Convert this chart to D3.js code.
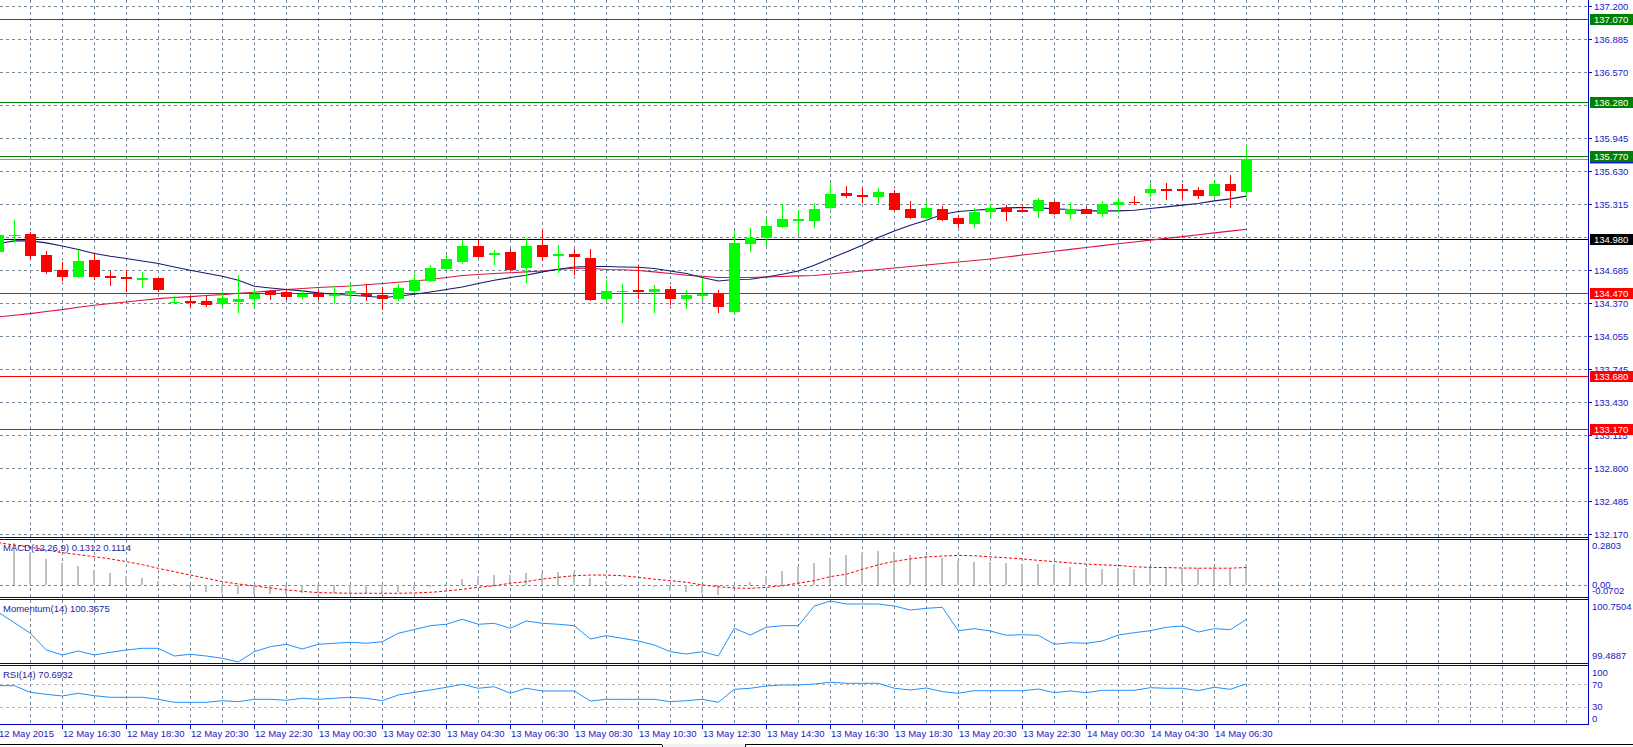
<!DOCTYPE html>
<html><head><meta charset="utf-8">
<script src="https://cdn.jsdelivr.net/npm/d3@7"></script>
<style>
html,body{margin:0;padding:0;background:#fff;overflow:hidden}
svg{display:block}
text{font-family:"Liberation Sans",Arial,sans-serif;font-size:9.5px}
</style>
</head><body>
<svg id="c" width="1633" height="747"></svg>
<script>
// ---------- DATA (USDJPY-like M30, 79 bars) ----------
const open=[134.857,135.015,135.026,134.826,134.683,134.619,134.778,134.625,134.615,134.600,
134.607,134.378,134.390,134.388,134.366,134.381,134.410,134.486,134.473,134.429,
134.461,134.445,134.461,134.461,134.445,134.410,134.486,134.581,134.692,134.762,
134.912,134.823,134.854,134.705,134.921,134.826,134.835,134.797,134.410,134.480,
134.490,134.476,134.502,134.410,134.435,134.461,134.286,134.937,134.990,135.095,
135.160,135.152,135.273,135.416,135.397,135.381,135.416,135.264,135.181,135.270,
135.178,135.124,135.238,135.273,135.257,135.248,135.334,135.219,135.270,135.219,
135.305,135.334,135.419,135.454,135.454,135.445,135.388,135.502,135.426];
const high=[135.050,135.159,135.048,134.864,134.762,134.880,134.842,134.673,134.683,134.667,
134.613,134.442,134.435,134.435,134.476,134.635,134.492,134.499,134.502,134.492,
134.492,134.537,134.550,134.556,134.524,134.556,134.651,134.730,134.832,134.969,
134.969,134.873,134.889,134.994,135.070,134.921,134.889,134.889,134.594,134.556,
134.721,134.540,134.533,134.492,134.613,134.492,135.054,135.086,135.178,135.311,
135.254,135.318,135.509,135.483,135.461,135.461,135.451,135.340,135.337,135.292,
135.207,135.273,135.311,135.305,135.295,135.366,135.340,135.330,135.280,135.340,
135.375,135.388,135.514,135.514,135.508,135.476,135.540,135.588,135.873];
const low=[134.830,134.943,134.788,134.645,134.578,134.612,134.594,134.533,134.476,134.514,
134.476,134.366,134.333,134.333,134.328,134.276,134.333,134.404,134.404,134.407,
134.397,134.366,134.407,134.390,134.308,134.388,134.470,134.571,134.683,134.740,
134.800,134.730,134.673,134.562,134.769,134.657,134.635,134.388,134.381,134.181,
134.413,134.276,134.350,134.314,134.397,134.276,134.276,134.857,134.914,135.086,
135.032,135.086,135.261,135.371,135.318,135.324,135.245,135.169,135.175,135.152,
135.080,135.089,135.191,135.152,135.235,135.181,135.212,135.169,135.216,135.191,
135.229,135.302,135.375,135.350,135.356,135.362,135.371,135.276,135.381];
const close=[135.016,135.022,134.819,134.667,134.619,134.769,134.619,134.615,134.606,134.606,
134.499,134.384,134.384,134.352,134.416,134.407,134.461,134.448,134.429,134.461,
134.429,134.452,134.483,134.435,134.410,134.509,134.588,134.702,134.788,134.912,
134.810,134.848,134.683,134.912,134.810,134.835,134.810,134.397,134.483,134.486,
134.483,134.502,134.410,134.445,134.454,134.333,134.943,134.990,135.102,135.169,
135.166,135.270,135.407,135.390,135.378,135.426,135.254,135.181,135.273,135.159,
135.124,135.238,135.273,135.238,135.238,135.350,135.219,135.270,135.219,135.311,
135.330,135.326,135.454,135.438,135.438,135.388,135.502,135.435,135.737];
const maFast=[134.937,134.962,134.962,134.943,134.914,134.880,134.842,134.816,134.794,134.771,
134.747,134.714,134.683,134.654,134.626,134.588,134.530,134.514,134.499,134.486,
134.467,134.454,134.445,134.435,134.423,134.435,134.454,134.476,134.499,134.524,
134.556,134.588,134.613,134.635,134.667,134.692,134.714,134.718,134.718,134.714,
134.711,134.699,134.676,134.651,134.613,134.581,134.594,134.597,134.619,134.645,
134.676,134.730,134.794,134.857,134.921,134.994,135.057,135.111,135.159,135.213,
135.242,135.254,135.264,135.276,135.280,135.276,135.267,135.261,135.248,135.248,
135.248,135.254,135.270,135.286,135.302,135.318,135.343,135.362,135.388];
const maSlow=[134.238,134.254,134.270,134.290,134.308,134.330,134.350,134.366,134.381,134.397,
134.413,134.423,134.432,134.442,134.451,134.464,134.473,134.486,134.499,134.509,
134.518,134.526,134.533,134.545,134.556,134.569,134.581,134.594,134.613,134.632,
134.642,134.651,134.659,134.667,134.676,134.690,134.702,134.702,134.690,134.688,
134.680,134.667,134.651,134.635,134.626,134.613,134.613,134.613,134.619,134.623,
134.629,134.632,134.647,134.661,134.675,134.690,134.704,134.718,134.732,134.747,
134.761,134.775,134.790,134.808,134.827,134.845,134.863,134.881,134.899,134.917,
134.935,134.952,134.969,134.986,135.003,135.021,135.038,135.055,135.073];
const macdHist=[0.2803,0.267,0.200,0.165,0.138,0.121,0.096,0.075,0.058,0.044,
0.027,0.006,-0.019,-0.040,-0.050,-0.056,-0.056,-0.056,-0.054,-0.050,
-0.050,-0.050,-0.046,-0.046,-0.046,-0.040,-0.030,-0.010,0.010,0.039,
0.054,0.064,0.064,0.079,0.079,0.085,0.081,0.048,0.029,0.008,
-0.003,-0.013,-0.036,-0.040,-0.046,-0.061,-0.019,0.023,0.060,0.089,
0.115,0.141,0.173,0.190,0.204,0.217,0.210,0.192,0.183,0.173,
0.154,0.148,0.148,0.141,0.131,0.135,0.125,0.116,0.110,0.102,
0.106,0.104,0.113,0.115,0.110,0.106,0.115,0.106,0.1312];
const macdSignal=[0.267,0.252,0.238,0.221,0.204,0.192,0.179,0.165,0.148,0.129,
0.106,0.085,0.064,0.044,0.023,0.008,-0.004,-0.017,-0.029,-0.038,
-0.046,-0.048,-0.050,-0.050,-0.050,-0.050,-0.048,-0.044,-0.036,-0.025,
-0.013,-0.003,0.013,0.023,0.039,0.050,0.060,0.064,0.064,0.060,
0.050,0.038,0.029,0.019,0.002,-0.009,-0.017,-0.019,-0.013,-0.003,
0.013,0.029,0.054,0.069,0.100,0.128,0.150,0.165,0.177,0.183,
0.187,0.185,0.178,0.172,0.165,0.156,0.148,0.140,0.133,0.128,
0.124,0.116,0.112,0.111,0.108,0.107,0.107,0.107,0.1114];
const momentum=[100.517,100.301,100.082,99.737,99.634,99.716,99.634,99.689,99.737,99.772,
99.772,99.613,99.648,99.613,99.565,99.4887,99.702,99.805,99.855,99.758,
99.855,99.876,99.896,99.876,99.909,100.082,100.160,100.240,100.269,100.372,
100.269,100.289,100.186,100.337,100.289,100.269,100.240,99.964,100.033,99.979,
99.923,99.840,99.702,99.654,99.702,99.613,100.186,100.047,100.206,100.240,
100.240,100.647,100.7504,100.688,100.688,100.688,100.647,100.564,100.599,100.620,
100.136,100.178,100.130,100.041,100.054,100.041,99.855,99.888,99.876,99.923,
100.047,100.095,100.136,100.206,100.233,100.109,100.178,100.157,100.3675];
const rsi=[67.5,67.5,56.0,52.5,49.6,54.3,50.1,47.3,47.3,47.3,
43.8,38.6,38.6,38.6,41.4,39.7,43.8,43.8,42.1,45.6,
43.8,45.6,47.3,45.6,41.4,51.3,56.0,60.0,64.7,69.9,
63.0,65.7,54.3,63.0,58.3,58.3,58.3,40.9,43.8,43.8,
43.8,43.8,39.7,41.4,43.8,38.6,61.2,63.0,67.0,68.7,
68.7,70.4,73.4,71.7,71.7,71.7,63.0,60.0,63.5,57.1,
54.3,58.8,58.8,58.8,58.8,61.7,55.3,58.3,55.3,59.5,
59.5,59.5,64.0,63.0,63.0,58.8,64.7,61.2,70.6932];
const levels=[137.070,136.280,135.770,134.980,134.470,133.680,133.170];
const levelText=["137.070","136.280","135.770","134.980","134.470","133.680","133.170"];
const priceTicks=[132.170,132.485,132.800,133.115,133.430,133.745,134.055,134.370,134.685,135.000,135.315,135.630,135.945,136.255,136.570,136.885,137.200];
const priceTickText=["132.170","132.485","132.800","133.115","133.430","133.745","134.055","134.370","134.685","","135.315","135.630","135.945","","136.570","136.885","137.200"];
const timeIdx=[0,4,8,12,16,20,24,28,32,36,40,44,48,52,56,60,64,68,72,76];
const timeText=["12 May 2015","12 May 16:30","12 May 18:30","12 May 20:30","12 May 22:30","13 May 00:30","13 May 02:30","13 May 04:30","13 May 06:30","13 May 08:30","13 May 10:30","13 May 12:30","13 May 14:30","13 May 16:30","13 May 18:30","13 May 20:30","13 May 22:30","14 May 00:30","14 May 04:30","14 May 06:30"];
const macdRange=[-0.0702,0.2803], momRange=[99.4887,100.7504], rsiRange=[0,100], rsiLevels=[70,30];

// ---------- STYLE ----------
const levelColor=["#008000","#008000","#008000","#000000","#ff0000","#ff0000","#ff0000"];
const GRID="#778899", AXC="#0000c8", TXT="#2020c8", TITLE="#1e1ea0";
const W=1633, H=747, AX=1588.5;

const svg=d3.select("#c");
svg.append("rect").attr("width",W).attr("height",H).attr("fill","#fff");
const n=close.length;
const x=d3.scaleLinear().domain([0,99]).range([-1.7,1582.3]);
const yMain=d3.scaleLinear().domain([132.17,137.2]).range([534.3,5.7]);
const yMacd=d3.scaleLinear().domain(macdRange).range([596.5,540.5]);
const yMom=d3.scaleLinear().domain(momRange).range([662,601]);
const yRsi=d3.scaleLinear().domain(rsiRange).range([724.5,667]);

const panels=[{id:"pm",y0:0,y1:537},{id:"p1",y0:540,y1:597},{id:"p2",y0:600,y1:663},{id:"p3",y0:666,y1:724}];
const defs=svg.append("defs");
panels.forEach(p=>{defs.append("clipPath").attr("id",p.id).append("rect").attr("x",0).attr("y",p.y0).attr("width",AX).attr("height",p.y1-p.y0);});
const G={};
panels.forEach(p=>{G[p.id]=svg.append("g").attr("clip-path",`url(#${p.id})`);});

// vertical grid in every panel
const vg=d3.range(2,100,2);
panels.forEach(p=>{
  G[p.id].selectAll(null).data(vg).join("line")
   .attr("x1",i=>Math.round(x(i))+0.5).attr("x2",i=>Math.round(x(i))+0.5)
   .attr("y1",p.y0).attr("y2",p.y1).attr("stroke",GRID).attr("stroke-dasharray","3,3")
   .attr("shape-rendering","crispEdges");
});
// main horizontal grid
G.pm.selectAll(null).data(priceTicks).join("line")
  .attr("x1",0).attr("x2",AX).attr("y1",d=>Math.round(yMain(d))+0.5).attr("y2",d=>Math.round(yMain(d))+0.5)
  .attr("stroke",GRID).attr("stroke-dasharray","3,3").attr("shape-rendering","crispEdges");

// level lines
G.pm.selectAll(null).data(levels).join("line")
  .attr("x1",0).attr("x2",AX).attr("y1",d=>Math.round(yMain(d))+0.5).attr("y2",d=>Math.round(yMain(d))+0.5)
  .attr("stroke",(d,i)=>levelColor[i]).attr("shape-rendering","crispEdges");
// bid line
G.pm.append("line").attr("x1",0).attr("x2",AX)
  .attr("y1",Math.round(yMain(close[n-1]))+0.5).attr("y2",Math.round(yMain(close[n-1]))+0.5)
  .attr("stroke","#8a96a3").attr("shape-rendering","crispEdges");

// moving averages
const lineMain=d3.line().x((d,i)=>x(i)).y(d=>yMain(d));
G.pm.append("path").attr("d",lineMain(maSlow)).attr("fill","none").attr("stroke","#dc143c").attr("stroke-width",1.1);
G.pm.append("path").attr("d",lineMain(maFast)).attr("fill","none").attr("stroke","#191970").attr("stroke-width",1.1);

// candles
const idx=d3.range(n);
const col=i=>close[i]>=open[i]?"#00ff00":"#ff0000";
G.pm.selectAll(null).data(idx).join("rect")
  .attr("x",i=>Math.round(x(i))).attr("width",1)
  .attr("y",i=>yMain(high[i])).attr("height",i=>yMain(low[i])-yMain(high[i]))
  .attr("fill",col).attr("shape-rendering","crispEdges");
G.pm.selectAll(null).data(idx).join("rect")
  .attr("x",i=>Math.round(x(i))-5).attr("width",11)
  .attr("y",i=>yMain(Math.max(open[i],close[i])))
  .attr("height",i=>Math.max(1.5,Math.abs(yMain(open[i])-yMain(close[i]))))
  .attr("fill",col).attr("shape-rendering","crispEdges");

// MACD
G.p1.append("line").attr("x1",0).attr("x2",AX).attr("y1",Math.round(yMacd(0))+0.5).attr("y2",Math.round(yMacd(0))+0.5)
  .attr("stroke",GRID).attr("stroke-dasharray","3,3").attr("shape-rendering","crispEdges");
G.p1.selectAll(null).data(idx).join("rect")
  .attr("x",i=>Math.round(x(i))-1).attr("width",2)
  .attr("y",i=>Math.min(yMacd(0),yMacd(macdHist[i])))
  .attr("height",i=>Math.abs(yMacd(macdHist[i])-yMacd(0)))
  .attr("fill","#c0c0c0").attr("shape-rendering","crispEdges");
G.p1.append("path").attr("d",d3.line().x((d,i)=>x(i)).y(d=>yMacd(d))(macdSignal))
  .attr("fill","none").attr("stroke","#ff0000").attr("stroke-dasharray","3,2");

// Momentum
G.p2.append("path").attr("d",d3.line().x((d,i)=>x(i)).y(d=>yMom(d))(momentum))
  .attr("fill","none").attr("stroke","#1e90ff");

// RSI
G.p3.selectAll(null).data(rsiLevels).join("line").attr("x1",0).attr("x2",AX)
  .attr("y1",d=>Math.round(yRsi(d))+0.5).attr("y2",d=>Math.round(yRsi(d))+0.5)
  .attr("stroke","#b4b4b4").attr("stroke-dasharray","3,3").attr("shape-rendering","crispEdges");
G.p3.append("path").attr("d",d3.line().x((d,i)=>x(i)).y(d=>yRsi(d))(rsi))
  .attr("fill","none").attr("stroke","#1e90ff");

// panel separators (double lines)
[537.5,539.5,597.5,599.5,663.5,665.5].forEach(y=>{
  svg.append("line").attr("x1",0).attr("x2",AX).attr("y1",y).attr("y2",y).attr("stroke","#0000a0").attr("shape-rendering","crispEdges");
});
// axis lines
svg.append("line").attr("x1",AX).attr("x2",AX).attr("y1",0).attr("y2",725).attr("stroke",AXC).attr("shape-rendering","crispEdges");
svg.append("line").attr("x1",0).attr("x2",AX).attr("y1",724.5).attr("y2",724.5).attr("stroke",AXC).attr("shape-rendering","crispEdges");

// price axis labels
const pt=svg.append("g");
priceTicks.forEach((v,k)=>{
  if(!priceTickText[k]) return;
  const y=Math.round(yMain(v))+0.5;
  pt.append("line").attr("x1",AX).attr("x2",AX+3).attr("y1",y).attr("y2",y).attr("stroke",AXC).attr("shape-rendering","crispEdges");
  pt.append("text").attr("x",1594).attr("y",y).attr("dy","0.35em").attr("fill",TXT).text(priceTickText[k]);
});
// bid marker box (mostly hidden)
svg.append("rect").attr("x",1590).attr("y",yMain(close[n-1])-4).attr("width",43).attr("height",8).attr("fill","#1414d2");
// level boxes
levels.forEach((v,k)=>{
  const y=yMain(v);
  svg.append("rect").attr("x",1590).attr("y",Math.round(y)-5).attr("width",43).attr("height",11).attr("fill",levelColor[k]).attr("shape-rendering","crispEdges");
  svg.append("text").attr("x",1594).attr("y",Math.round(y)+0.5).attr("dy","0.35em").attr("fill","#fff").text(levelText[k]);
});

// indicator scale labels
function rlab(y,t){svg.append("text").attr("x",1592).attr("y",y).attr("dy","0.35em").attr("fill",TXT).text(t);}
rlab(yMacd(macdRange[1])+5.5,"0.2803");
rlab(yMacd(0)-0.5,"0.00");
rlab(yMacd(macdRange[0])-5.5,"-0.0702");
rlab(yMom(momRange[1])+5.7,"100.7504");
rlab(yMom(momRange[0])-6,"99.4887");
rlab(yRsi(100)+5.7,"100");
rlab(yRsi(70),"70");
rlab(yRsi(30)-0.5,"30");
rlab(yRsi(0)-5.8,"0");

// indicator titles
function title(y,t){svg.append("text").attr("x",3).attr("y",y).attr("dy","0.35em").attr("fill",TITLE).text(t);}
title(548,"MACD(12,26,9) 0.1312 0.1114");
title(609,"Momentum(14) 100.3675");
title(675,"RSI(14) 70.6932");

// time axis
timeIdx.forEach((i,k)=>{
  const xx=Math.round(x(i))+0.5;
  svg.append("line").attr("x1",xx).attr("x2",xx).attr("y1",724.5).attr("y2",729).attr("stroke",AXC).attr("shape-rendering","crispEdges");
  svg.append("text").attr("x",xx+0.5).attr("y",734).attr("dy","0.35em").attr("fill",TXT).text(timeText[k]);
});

// window tabs at bottom
svg.append("rect").attr("x",662).attr("y",744).attr("width",83).attr("height",3).attr("fill","#f0f0f0");
svg.append("line").attr("x1",0).attr("x2",662).attr("y1",744.5).attr("y2",744.5).attr("stroke","#000").attr("shape-rendering","crispEdges");
svg.append("line").attr("x1",662.5).attr("x2",662.5).attr("y1",744.5).attr("y2",747).attr("stroke","#000").attr("shape-rendering","crispEdges");
svg.append("line").attr("x1",745).attr("x2",1633).attr("y1",744.5).attr("y2",744.5).attr("stroke","#000").attr("shape-rendering","crispEdges");
svg.append("line").attr("x1",745.5).attr("x2",745.5).attr("y1",744.5).attr("y2",747).attr("stroke","#000").attr("shape-rendering","crispEdges");
</script>
</body></html>
